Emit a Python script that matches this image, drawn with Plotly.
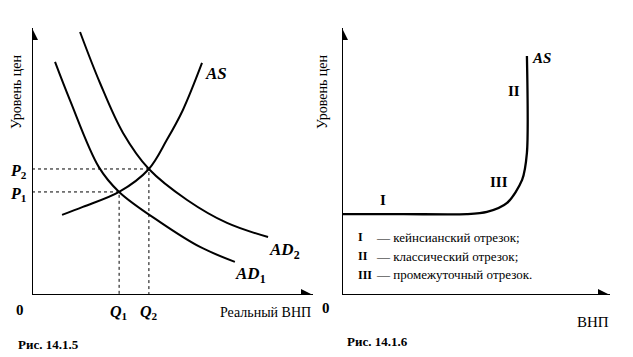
import plotly.graph_objects as go

# ---------------- data (left panel: AD/AS equilibrium) ----------------
ad1_q = [0.82, 1.35, 2.38, 3.10, 4.56, 5.98, 7.22]
ad1_p = [8.73, 7.30, 4.79, 3.86, 2.73, 1.80, 1.24]
ad2_q = [1.71, 2.42, 3.24, 4.16, 5.52, 6.94, 8.40]
ad2_p = [9.85, 7.94, 6.07, 4.72, 3.56, 2.70, 2.17]
as_q = [1.07, 1.81, 3.10, 4.16, 4.80, 5.37, 6.05]
as_p = [3.00, 3.30, 3.86, 4.72, 5.81, 6.93, 8.69]
eq_q = [3.10, 4.16]          # Q1, Q2
eq_p = [3.86, 4.72]          # P1, P2
eq_q_labels = ["<i>Q</i><sub>1</sub>", "<i>Q</i><sub>2</sub>"]
eq_p_labels = ["<i>P</i><sub>1</sub>", "<i>P</i><sub>2</sub>"]

# ---------------- data (right panel: AS segments) ----------------
as2_q = [0.0, 2.3, 4.66, 5.41, 6.16, 6.72, 6.90, 6.90]
as2_p = [3.03, 3.03, 3.03, 3.11, 3.45, 4.31, 5.32, 8.95]
legend_num = ["I", "II", "III"]
legend_txt = ["— кейнсианский отрезок;", "— классический отрезок;", "— промежуточный отрезок."]

FONT = "Liberation Serif"
W, H = 633, 357

fig = go.Figure()
line = dict(color="black", width=2, shape="spline", smoothing=1.0)
fig.add_trace(go.Scatter(x=ad1_q, y=ad1_p, mode="lines", line=line, xaxis="x", yaxis="y"))
fig.add_trace(go.Scatter(x=ad2_q, y=ad2_p, mode="lines", line=line, xaxis="x", yaxis="y"))
fig.add_trace(go.Scatter(x=as_q, y=as_p, mode="lines", line=line, xaxis="x", yaxis="y"))
for q, p in zip(eq_q, eq_p):
    fig.add_trace(go.Scatter(x=[0, q, q], y=[p, p, 0], mode="lines",
                             line=dict(color="black", width=1, dash="dot"),
                             xaxis="x", yaxis="y"))
fig.add_trace(go.Scatter(x=as2_q, y=as2_p, mode="lines",
                         line=dict(color="black", width=2.3, shape="spline", smoothing=0.8),
                         xaxis="x2", yaxis="y2"))

# axes with arrow heads
for xa, ya in (("x", "y"), ("x2", "y2")):
    fig.add_trace(go.Scatter(x=[0, 0, 10], y=[10, 0, 0], mode="lines",
                             line=dict(color="black", width=2), xaxis=xa, yaxis=ya))
    fig.add_trace(go.Scatter(x=[0, 10], y=[10, 0], mode="markers",
                             marker=dict(symbol=["arrow-up", "arrow-right"], size=12,
                                         color="black", line=dict(width=0)),
                             xaxis=xa, yaxis=ya))

ann = []

def txt(x, y, s, size=14, xref="x", yref="y", xanchor="center", yanchor="middle", **kw):
    d = dict(x=x, y=y, text=s, xref=xref, yref=yref, showarrow=False,
             xanchor=xanchor, yanchor=yanchor,
             font=dict(family=FONT, size=size, color="black"))
    d.update(kw)
    ann.append(d)

# left panel labels
txt(6.55, 8.28, "<b><i>AS</i></b>", 17)
txt(9.0, 1.65, "<b><i>AD</i></b><sub><b>2</b></sub>", 17)
txt(7.76, 0.75, "<b><i>AD</i></b><sub><b>1</b></sub>", 17)
for p, lab in zip(eq_p, eq_p_labels):
    txt(0, p, "<b>" + lab + "</b>", 16, xanchor="right", xshift=-3, yshift=-3)
for q, lab in zip(eq_q, eq_q_labels):
    txt(q, 0, "<b>" + lab + "</b>", 16, yanchor="top", yshift=-6)
txt(20 / W, 1 - 310 / H, "<b>0</b>", 15, xref="paper", yref="paper")
txt(265 / W, 1 - 312 / H, "Реальный ВНП", 14, xref="paper", yref="paper")
txt(48 / W, 1 - 344 / H, "<b>Рис. 14.1.5</b>", 13, xref="paper", yref="paper")
txt(17 / W, 1 - 92 / H, "Уровень цен", 14, xref="paper", yref="paper", textangle=-90)

# right panel labels
txt(7.43, 8.88, "<b><i>AS</i></b>", 15, xref="x2", yref="y2")
txt(6.42, 7.64, "<b>II</b>", 15, xref="x2", yref="y2")
txt(5.86, 4.23, "<b>III</b>", 15, xref="x2", yref="y2")
txt(1.53, 3.56, "<b>I</b>", 15, xref="x2", yref="y2")
leg_y = [2.17, 1.46, 0.75]
for n, t, yy in zip(legend_num, legend_txt, leg_y):
    txt(0.54, yy, "<b>" + n + "</b>", 12, xref="x2", yref="y2", xanchor="left")
    txt(1.18, yy, t, 13, xref="x2", yref="y2", xanchor="left")
txt(326 / W, 1 - 308 / H, "<b>0</b>", 15, xref="paper", yref="paper")
txt(593 / W, 1 - 322 / H, "ВНП", 15, xref="paper", yref="paper")
txt(377 / W, 1 - 341 / H, "<b>Рис. 14.1.6</b>", 13, xref="paper", yref="paper")
txt(323 / W, 1 - 92 / H, "Уровень цен", 14, xref="paper", yref="paper", textangle=-90)

ax_common = dict(range=[0, 10], visible=False, fixedrange=True)
fig.update_layout(
    width=W, height=H,
    margin=dict(l=0, r=0, t=0, b=0),
    paper_bgcolor="white", plot_bgcolor="rgba(0,0,0,0)",
    showlegend=False,
    font=dict(family=FONT, color="black"),
    xaxis=dict(domain=[32 / W, 313 / W], anchor="y", **ax_common),
    yaxis=dict(domain=[1 - 295 / H, 1 - 28 / H], anchor="x", **ax_common),
    xaxis2=dict(domain=[342 / W, 610 / W], anchor="y2", **ax_common),
    yaxis2=dict(domain=[1 - 295 / H, 1 - 28 / H], anchor="x2", **ax_common),
    annotations=ann,
)
fig.write_html("out.html", config={"displayModeBar": False},
               post_script="document.body.style.margin='0';document.body.style.overflow='hidden';")
